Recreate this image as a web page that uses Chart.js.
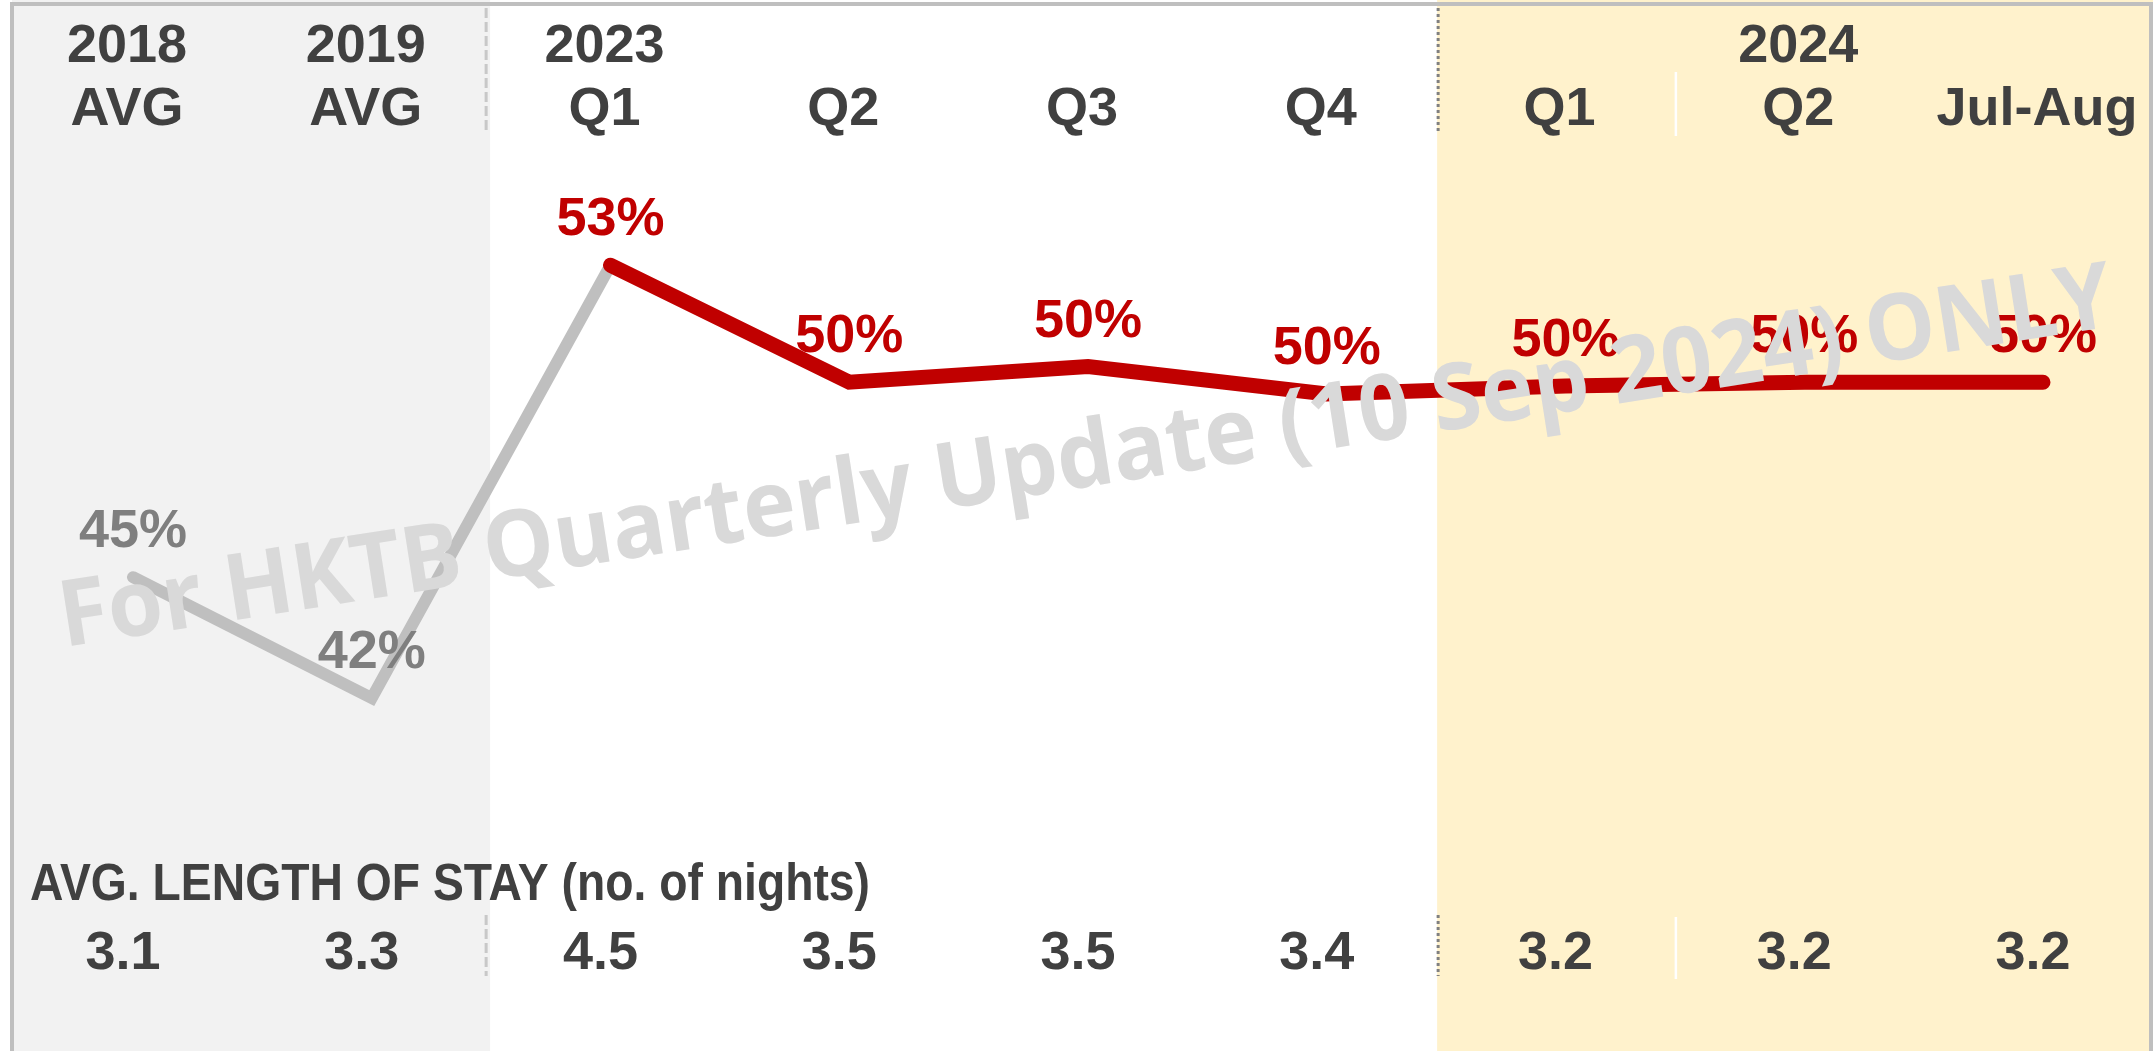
<!DOCTYPE html>
<html>
<head>
<meta charset="utf-8">
<script src="https://cdn.jsdelivr.net/npm/chart.js@4.4.1/dist/chart.umd.min.js"></script>
<style>
    html, body { margin: 0; padding: 0; background: #fff; }
    canvas { display: block; }
</style>
</head>
<body>
<canvas id="stay-chart" width="2153" height="1051"></canvas>
<script>
// column headers (two rows) and the values
const yearLabels    = ['2018', '2019', '2023', '', '', '', '', '2024', ''];
const periodLabels  = ['AVG', 'AVG', 'Q1', 'Q2', 'Q3', 'Q4', 'Q1', 'Q2', 'Jul-Aug'];
// share (%) - grey line for the older years, red line from 2023 Q1 on
const historicShare = [45, 41.9, 53, null, null, null, null, null, null];
const recentShare   = [null, null, 53, 50.0, 50.4, 49.7, 49.9, 50.0, 50.0];
const stayNights    = [3.1, 3.3, 4.5, 3.5, 3.5, 3.4, 3.2, 3.2, 3.2];

const STAY_TITLE = 'AVG. LENGTH OF STAY (no. of nights)';
const WATERMARK  = 'For HKTB Quarterly Update (10 Sep 2024) ONLY';

const RED       = '#C00000';
const GREY_LINE = '#BFBFBF';
const GREY_TEXT = '#7F7F7F';
const DARK      = '#404040';
const FONT      = '"Liberation Sans", Arial, sans-serif';

const colX = (chart, i) => chart.scales.x.getPixelForValue(i);
const colEdge = (chart, i) => (colX(chart, i) + colX(chart, i + 1)) / 2;

function fitText(ctx, text, x, y, maxW) {
    const w = ctx.measureText(text).width;
    const sx = w > maxW ? maxW / w : 1;
    ctx.save();
    ctx.translate(x, y);
    ctx.scale(sx, 1);
    ctx.fillText(text, 0, 0);
    ctx.restore();
}

function vline(ctx, x, y0, y1) {
    ctx.beginPath();
    ctx.moveTo(x, y0);
    ctx.lineTo(x, y1);
    ctx.stroke();
}

const backdrop = {
    id: 'backdrop',
    beforeDraw(chart) {
        const { ctx, width, height } = chart;
        const sepOld  = colEdge(chart, 1) - 5;   // between 2019 and 2023
        const sep2024 = colEdge(chart, 5) - 9;   // between 2023 Q4 and 2024 Q1
        const sepQ    = colEdge(chart, 6) - 9;   // between 2024 Q1 and Q2

        ctx.save();
        ctx.fillStyle = '#fff';
        ctx.fillRect(0, 0, width, height);
        ctx.fillStyle = '#F2F2F2';
        ctx.fillRect(12, 0, sepOld + 4 - 12, height);
        ctx.fillStyle = '#FFF2CC';
        ctx.fillRect(sep2024, 0, width - sep2024, height);

        // frame
        ctx.strokeStyle = GREY_LINE;
        ctx.lineWidth = 4;
        ctx.beginPath();
        ctx.moveTo(12, height);
        ctx.lineTo(12, 4);
        ctx.lineTo(width - 2, 4);
        ctx.lineTo(width - 2, height);
        ctx.stroke();

        // separators
        ctx.lineWidth = 3;
        ctx.strokeStyle = '#C8C8C8';
        ctx.setLineDash([10, 4]);
        vline(ctx, sepOld, 8, 133);
        vline(ctx, sepOld, 915, 976);
        ctx.strokeStyle = '#808080';
        ctx.setLineDash([3, 3]);
        vline(ctx, sep2024 + 1, 8, 133);
        vline(ctx, sep2024 + 1, 915, 976);
        ctx.setLineDash([]);
        ctx.strokeStyle = '#FFFFFF';
        ctx.lineWidth = 2.5;
        vline(ctx, sepQ, 72, 136);
        vline(ctx, sepQ, 917, 979);

        // header rows
        ctx.fillStyle = DARK;
        ctx.font = `bold 54px ${FONT}`;
        ctx.textAlign = 'center';
        ctx.textBaseline = 'alphabetic';
        periodLabels.forEach((p, i) => {
            const x = colX(chart, i) - 6;
            if (yearLabels[i]) ctx.fillText(yearLabels[i], x, 62);
            ctx.fillText(p, x, 125);
        });

        // length of stay rows
        stayNights.forEach((n, i) => {
            ctx.fillText(n.toFixed(1), colX(chart, i) - 10, 969);
        });
        ctx.textAlign = 'left';
        ctx.font = `bold 51px ${FONT}`;
        fitText(ctx, STAY_TITLE, 30, 900, 840);
        ctx.restore();
    },
};

const pointLabels = {
    id: 'pointLabels',
    afterDatasetsDraw(chart) {
        const { ctx } = chart;
        ctx.save();
        ctx.font = `bold 54px ${FONT}`;
        ctx.textAlign = 'center';
        ctx.textBaseline = 'alphabetic';
        chart.data.datasets.forEach((ds, d) => {
            const meta = chart.getDatasetMeta(d);
            ds.data.forEach((v, i) => {
                if (v == null || (ds.skipLabels || []).includes(i)) return;
                const pt = meta.data[i];
                ctx.fillStyle = ds.labelColor;
                ctx.fillText(Math.round(v) + '%', pt.x, pt.y - 30);
            });
        });
        ctx.restore();
    },
};

const watermark = {
    id: 'watermark',
    afterDraw(chart) {
        const { ctx } = chart;
        ctx.save();
        ctx.translate(64, 647);
        ctx.rotate(-8.9 * Math.PI / 180);
        ctx.font = `bold 92px "Open Sans", "Noto Sans", sans-serif`;
        ctx.fillStyle = '#D9D9D9';
        ctx.textAlign = 'left';
        ctx.textBaseline = 'alphabetic';
        const w = ctx.measureText(WATERMARK).width;
        ctx.scale(2077 / w, 1);
        ctx.fillText(WATERMARK, 0, 0);
        ctx.restore();
    },
};

new Chart(document.getElementById('stay-chart').getContext('2d'), {
    type: 'line',
    data: {
        labels: periodLabels,
        datasets: [
            {
                data: recentShare,
                borderColor: RED,
                borderWidth: 15,
                order: 0,
                clip: false,
                labelColor: RED,
            },
            {
                data: historicShare,
                borderColor: GREY_LINE,
                borderWidth: 12,
                order: 1,
                clip: false,
                labelColor: GREY_TEXT,
                skipLabels: [2],
            },
        ],
    },
    options: {
        responsive: false,
        animation: false,
        events: [],
        layout: { padding: { left: 133, right: 110, top: 0, bottom: 0 } },
        elements: {
            point: { radius: 0, hoverRadius: 0 },
            line: { tension: 0, fill: false, borderCapStyle: 'round', borderJoinStyle: 'miter' },
        },
        scales: {
            x: { display: false, offset: false },
            y: { display: false, min: 32.85, max: 59.8 },
        },
        plugins: {
            legend: { display: false },
            tooltip: { enabled: false },
        },
    },
    plugins: [backdrop, pointLabels, watermark],
});
</script>
</body>
</html>
